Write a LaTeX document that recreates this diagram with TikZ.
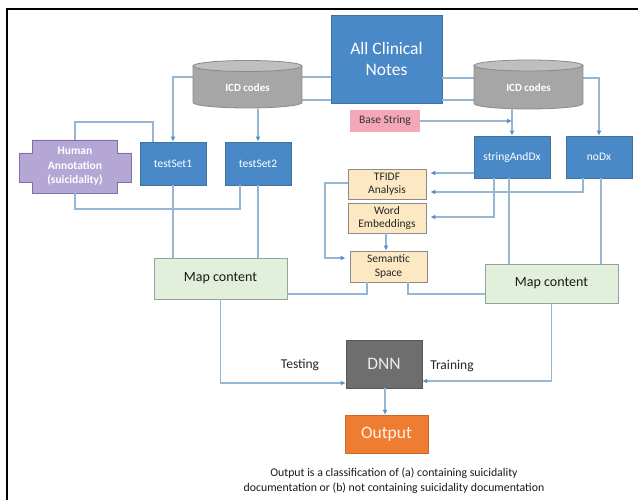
\documentclass[tikz,border=0pt]{standalone}
\usepackage{fontspec}
\setmainfont{Carlito}
\usetikzlibrary{arrows.meta}
\definecolor{bluefill}{HTML}{4A89C8}
\definecolor{blueline}{HTML}{41719C}
\definecolor{cylbody}{HTML}{A6A6A6}
\definecolor{cyltop}{HTML}{BFBFBF}
\definecolor{cylline}{HTML}{8A8A8A}
\definecolor{pinkfill}{HTML}{F4A7B9}
\definecolor{creamfill}{HTML}{FCE9C4}
\definecolor{creamline}{HTML}{8C8C8C}
\definecolor{mapfill}{HTML}{E2EFDA}
\definecolor{mapline}{HTML}{8FA5A0}
\definecolor{dnnfill}{HTML}{6E6E6E}
\definecolor{outfill}{HTML}{EE7D31}
\definecolor{outline}{HTML}{C8692B}
\definecolor{lavfill}{HTML}{B4A7D6}
\definecolor{lavline}{HTML}{7F6FA6}
\definecolor{linec}{HTML}{96B7D4}
\definecolor{arrowc}{HTML}{5B8FC9}
\begin{document}
\begin{tikzpicture}[x=1pt,y=-1pt,
  bluebox/.style={draw=blueline, fill=bluefill, line width=0.8pt, text=white, inner sep=0pt, align=center, font=\fontsize{11.5}{13}\selectfont},
  creambox/.style={draw=creamline, fill=creamfill, line width=0.8pt, text=black!85, inner sep=0pt, align=center, font=\fontsize{11.5}{13.5}\selectfont, minimum width=78pt},
  mapbox/.style={draw=mapline, fill=mapfill, line width=0.8pt, text=black!90, inner sep=0pt, minimum width=133pt, font=\fontsize{14}{16}\selectfont},
  cyltext/.style={inner sep=0pt, minimum width=109pt, minimum height=42pt, text=white, font=\bfseries\fontsize{11}{13}\selectfont},
  conn/.style={draw=linec, line width=1.2pt},
  arr/.style={conn, -{Latex[length=5pt,width=5pt,color=arrowc]}},
  lbl/.style={inner sep=0pt, font=\fontsize{13.5}{16}\selectfont, text=black!85}
]
\useasboundingbox (0,0) rectangle (638,500);
% frame
\draw[black, line width=2.5pt] (7,500) -- (7,9) -- (638,9);

% nodes (boxes)
\node[bluebox, minimum width=111pt, minimum height=88pt, font=\fontsize{17.5}{21}\selectfont] (acn) at (386.5,59) {All Clinical\\Notes};
\node[bluebox, minimum width=66pt, minimum height=43pt] (ts1) at (173,163.5) {testSet1};
\node[bluebox, minimum width=66pt, minimum height=43pt] (ts2) at (258,163.5) {testSet2};
\node[bluebox, minimum width=76pt, minimum height=42pt] (sad) at (512,157) {stringAndDx};
\node[bluebox, minimum width=66pt, minimum height=42pt] (nodx) at (599,157) {noDx};
\node[fill=pinkfill, minimum width=70pt, minimum height=22pt, inner sep=0pt, text=black!80, font=\fontsize{11.5}{13}\selectfont] (base) at (385,121) {Base String};
\node[creambox, minimum height=30pt] (tfidf) at (387,184) {TFIDF\\Analysis};
\node[creambox, minimum height=30pt] (wemb) at (387,218) {Word\\Embeddings};
\node[creambox, minimum width=77pt, minimum height=31pt] (sem) at (388.5,266.5) {Semantic\\Space};
\node[mapbox, minimum height=41pt] (map1) at (220.5,278.5) {Map content};
\node[mapbox, minimum height=39pt] (map2) at (551.5,283.5) {Map content};
\node[draw=dnnfill!80!black, fill=dnnfill, minimum width=76pt, minimum height=48pt, inner sep=0pt, text=white!92!black, font=\fontsize{17.5}{20}\selectfont] (dnn) at (384,364) {DNN};
\node[draw=outline, fill=outfill, minimum width=83pt, minimum height=38pt, inner sep=0pt, text=white!90!orange, font=\fontsize{17.5}{20}\selectfont] (out) at (386.5,434) {Output};

% connectors (drawn before cylinders so they pass behind)
\draw[arr] (acn.west |- 0,77) -| (ts1.north);
\draw[conn] (acn.west |- 0,100) -- (250,100);
\draw[arr] (acn.east |- 0,78) -| (nodx.north);
\draw[conn] (acn.east |- 0,100) -- (520,100);

% cylinders
\fill[cylbody] (193,66) rectangle (302,102.5);
\fill[cylbody] (247.5,102.5) ellipse [x radius=54.5, y radius=5.5];
\draw[cylline, line width=0.8pt] (193,66) -- (193,102.5) arc[start angle=180,end angle=0,x radius=54.5,y radius=5.5] -- (302,66);
\filldraw[fill=cyltop, draw=cylline, line width=0.8pt] (247.5,66) ellipse [x radius=54.5, y radius=5.5];
\node[cyltext] (icd1) at (247.5,88) {ICD codes};

\fill[cylbody] (474,65.5) rectangle (583,103.5);
\fill[cylbody] (528.5,103.5) ellipse [x radius=54.5, y radius=5.5];
\draw[cylline, line width=0.8pt] (474,65.5) -- (474,103.5) arc[start angle=180,end angle=0,x radius=54.5,y radius=5.5] -- (583,65.5);
\filldraw[fill=cyltop, draw=cylline, line width=0.8pt] (528.5,65.5) ellipse [x radius=54.5, y radius=5.5];
\node[cyltext] (icd2) at (528.5,87.5) {ICD codes};

% human annotation shape
\filldraw[fill=lavfill, draw=lavline, line width=0.8pt]
  (32,140) -- (117,140) -- (117,153) -- (131,153) -- (131,182) -- (117,182) -- (117,193)
  -- (32,193) -- (32,182) -- (19,182) -- (19,153) -- (32,153) -- cycle;
\node[inner sep=0pt, minimum width=85pt, minimum height=53pt, align=center, text=white, font=\bfseries\fontsize{11.5}{14.5}\selectfont] (human) at (75,166.5) {Human\\Annotation\\(suicidality)};

% remaining connectors
\draw[arr] (ts2.north |- icd1.south) -- (ts2.north);
\draw[arr] (sad.north |- icd2.south) -- (sad.north);
\draw[arr] (base.east) -- (sad.north |- base.east);
\draw[arr, shorten >=4pt] (sad.west |- 0,173) -- (tfidf.east |- 0,173);
\draw[arr, shorten >=4pt] (583,178) |- (tfidf.east |- 0,192);
\draw[arr, shorten >=4pt] (494,178) |- (wemb.east |- 0,217);
\draw[arr] (wemb.south -| 386,0) -- (sem.north -| 386,0);
\draw[arr, shorten >=4pt] (tfidf.west |- 0,183) -- (325,183) |- (sem.west |- 0,258);
\draw[conn] (509,178) -- (509,264);
\draw[conn] (601,178) -- (601,264);
\draw[conn] (367,282) |- (map1.east |- 0,294);
\draw[conn] (408,282) |- (map2.west |- 0,294);
\draw[conn] (human.north) -- (75,122) -| (153,142);
\draw[conn] (human.south) -- (75,209) -| (240,185);
\draw[conn] (ts1.south) -- (ts1.south |- map1.north);
\draw[conn] (ts2.south) -- (ts2.south |- map1.north);
\draw[arr] (map1.south) |- (dnn.west |- 0,383);
\draw[arr] (map2.south) |- (dnn.east |- 0,381);
\draw[arr] (dnn.south -| 385,0) -- (out.north -| 385,0);

% labels
\node[lbl] (testing) at (300,365) {Testing};
\node[lbl] (training) at (452,366) {Training};
\node[inner sep=0pt, align=center, text=black!90, font=\fontsize{11.8}{15}\selectfont] (caption) at (394,480.5)
  {Output is a classification of (a) containing suicidality\\documentation or (b) not containing suicidality documentation};
\end{tikzpicture}
\end{document}
